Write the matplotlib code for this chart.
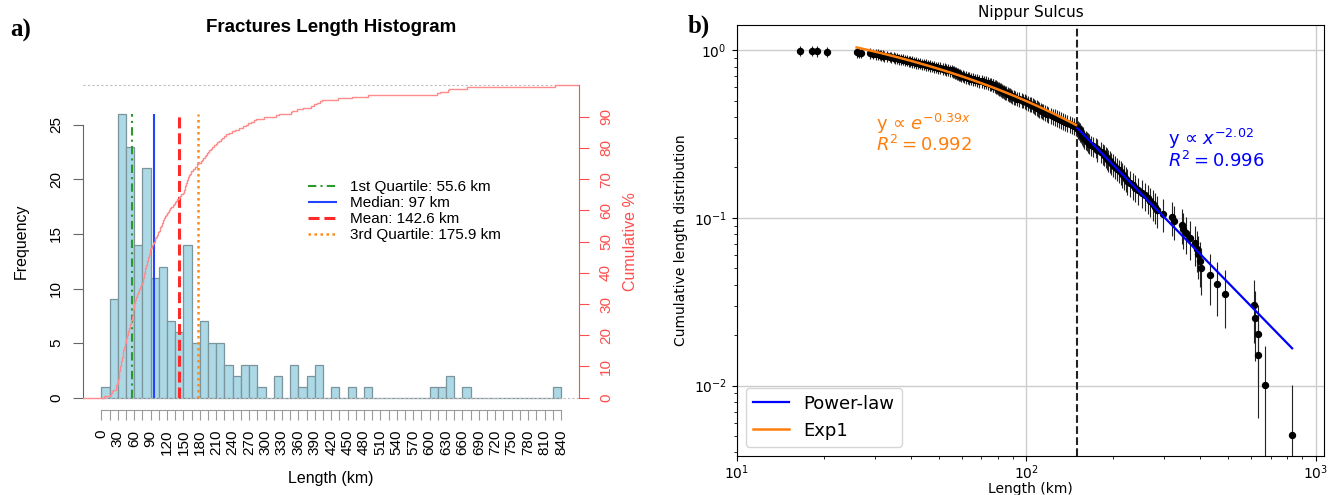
import numpy as np
import matplotlib
matplotlib.use("Agg")
import matplotlib.pyplot as plt

# fracture lengths in km (estimated from both panels, ascending)
lengths = [
    4.0,
    16.6, 18.2, 18.9, 20.5, 26.0, 26.4, 27.0, 28.8, 29.6,
    30.4, 30.9, 31.3, 31.6, 32.0, 32.4, 33.1, 33.8, 34.3, 34.9, 35.4, 35.9, 36.5,
    37.0, 37.6, 38.1, 38.7, 39.3, 39.8, 40.4, 41.0, 41.7, 42.3, 43.0, 43.8, 44.5,
    45.3, 45.9, 46.6, 47.4, 48.0, 48.9, 49.7, 50.6, 51.5, 52.3, 53.1, 53.9, 54.8,
    55.5, 55.9, 56.4, 56.9, 57.4, 57.8, 58.3, 58.8, 59.2, 59.7,
    60.4, 61.2, 62.0, 62.9, 63.6, 64.5, 65.7, 66.8, 67.9, 69.0, 70.3, 71.6, 72.8, 74.1,
    75.3, 75.9, 76.6, 77.2, 77.9, 78.5, 79.2, 79.8, 80.5, 81.1, 81.9, 82.6, 83.3,
    84.0, 84.8, 85.5, 86.3, 87.4, 88.3, 89.0, 89.7,
    90.6, 91.9, 93.2, 94.7, 96.6, 97.4, 98.9, 100.3, 101.8, 103.1, 104.4,
    105.5, 106.6, 107.8, 108.7, 109.9, 111.0, 112.3, 113.5, 114.6, 116.5, 118.0, 119.5,
    121.5, 123.5, 125.5, 128.0, 130.0, 132.2, 134.3,
    136.2, 138.9, 141.5, 144.0, 146.4, 148.8,
    150.4, 151.3, 152.2, 153.1, 154.0, 155.0, 155.9, 156.9, 157.9, 158.9, 160.8,
    162.2, 163.5, 164.6,
    167.5, 171.0, 173.9, 175.4, 176.1,
    181.5, 184.0, 186.5, 188.5, 190.5, 192.5, 194.5,
    197.0, 200.0, 203.0, 206.0, 209.0,
    212.0, 215.0, 218.0, 221.0, 223.8,
    228.5, 233.5, 238.5,
    244.5, 251.5,
    258.5, 263.5, 268.0,
    273.5, 278.5, 283.5,
    297.0,
    319.0, 324.0,
    347.0, 349.0, 357.0,
    369.0,
    384.0, 389.0,
    394.0, 399.0, 403.0,
    433.0, 458.0, 488.0,
    613.0, 619.0, 634.0, 635.0, 668.0, 830.0,
]

bin_width = 15
hist_max = 840

# summary statistics shown in the legend (km)
stat_names = ["1st Quartile", "Median", "Mean", "3rd Quartile"]
stat_values = [55.6, 97, 142.6, 175.9]

# fits in panel b)
pl_xmin = 150          # dashed line / start of power-law fit
pl_y0 = 0.343          # power-law line value at its first point
pl_slope = -1.77       # slope of drawn power-law line (log-log)
exp_x0 = 26.0          # start of Exp1 fit
exp_amp = 2.234
exp_rate = 0.15
pl_text = ["y \u221d $x^{-2.02}$", "$R^2 = 0.996$"]
exp_text = ["y \u221d $e^{-0.39x}$", "$R^2 = 0.992$"]

W, H = 1336, 495
fig = plt.figure(figsize=(W / 100, H / 100), dpi=100)
R_FONT = "Liberation Sans"

L = np.array(lengths)
N = len(L)

# ---------------- a) histogram ----------------
ax = fig.add_axes([83 / W, 1 - 410.2 / H, 496.3 / W, 337.2 / H])
edges = np.arange(0, hist_max + bin_width, bin_width)
counts, _, _ = ax.hist(L, bins=edges, color="#add8e6", edgecolor="#7c959d", linewidth=0.9)

xext = 0.04 * hist_max
xlim = (-xext, hist_max + xext)
ax.set_xlim(xlim)
ftop = counts.max() * 1.1
ax.set_ylim(-0.04 * ftop, 1.04 * ftop)

ax.spines[["top", "right"]].set_visible(False)
ax.spines["bottom"].set_bounds(0, hist_max)
ax.spines["left"].set_bounds(0, 25)
ax.spines["bottom"].set_color("#9a9a9a")
ax.spines["left"].set_color("#666666")

xt = np.arange(0, hist_max + 1, bin_width)
ax.set_xticks(xt)
ax.set_xticklabels([str(v) if v % 30 == 0 else "" for v in xt], rotation=90)
ax.tick_params(axis="x", length=7.2, pad=7, color="#9a9a9a", labelsize=11)
ax.set_yticks(range(0, 26, 5))
ax.tick_params(axis="y", length=7.2, pad=7, color="#666666", labelsize=11, labelrotation=90)
for lab in ax.get_xticklabels() + ax.get_yticklabels():
    lab.set_fontfamily(R_FONT)
for lab in ax.get_yticklabels():
    lab.set_va("center")

stat_styles = [
    dict(color="#2a9a2a", linestyle=(0, (4, 2, 1, 2)), linewidth=1.5),
    dict(color="#2244ff", linestyle="-", linewidth=1.5),
    dict(color="#ff2a2a", linestyle=(0, (3.6, 1.6)), linewidth=2.2),
    dict(color="#ff8c1a", linestyle=(0, (1, 1.4)), linewidth=1.8),
]
handles = []
for name, val, st in zip(stat_names, stat_values, stat_styles):
    h = ax.vlines(val, 0, counts.max(), label=f"{name}: {val:g} km", **st)
    handles.append(h)

ax.set_xlabel("Length (km)", fontsize=11.5, fontfamily=R_FONT, va="center")
ax.xaxis.set_label_coords(0.5, (410.2 - 478) / 337.2)
ax.set_ylabel("Frequency", fontsize=11.5, fontfamily=R_FONT, va="center")
ax.yaxis.set_label_coords((21 - 83) / 496.3, 0.5)

# cumulative curve on the right axis
red = "#ff4d4d"
ax2 = ax.twinx()
ax2.set_ylim(-4, 104)
ax2.spines[["top", "left", "bottom"]].set_visible(False)
ax2.spines["right"].set_bounds(0, 100)
ax2.spines["right"].set_color(red)
ax2.set_yticks(range(0, 91, 10))
ax2.tick_params(axis="y", length=7.2, pad=7, color=red, labelcolor=red, labelsize=11, labelrotation=90)
for lab in ax2.get_yticklabels():
    lab.set_fontfamily(R_FONT)
    lab.set_va("center")
for yv in (0, 100):
    ax2.axhline(yv, color="#bdbdbd", linestyle=(0, (2, 2)), linewidth=0.8, zorder=1)
xs = np.sort(L)
pct = np.arange(1, N + 1) / N * 100
ax2.step(np.r_[xlim[0], xs, xlim[1]], np.r_[0, pct, 100], where="post",
         color="#ff8c8c", linewidth=1, zorder=2)
ax2.set_ylabel("Cumulative %", color=red, fontsize=11.5, fontfamily=R_FONT, va="center")
ax2.yaxis.set_label_coords((631 - 83) / 496.3, 0.5)

leg = ax2.legend(handles=handles, loc="upper left", bbox_to_anchor=(0.4372, 0.7043),
                 frameon=False, borderpad=0, handlelength=1.9, handletextpad=0.9,
                 labelspacing=0.12, prop={"family": R_FONT, "size": 11})

fig.text(331 / W, 1 - 27 / H, "Fractures Length Histogram", ha="center", va="center",
         fontsize=13.5, fontweight="bold", fontfamily=R_FONT)

# ---------------- b) cumulative distribution ----------------
bx = fig.add_axes([736.5 / W, 1 - 456 / H, 587.8 / W, 431 / H])
ccdf = (N - np.arange(N)) / N
yerr = np.sqrt(ccdf * N) / N
bx.errorbar(xs, ccdf, yerr=yerr, fmt="o", color="k", markersize=4.3,
            ecolor="#222222", elinewidth=0.8, zorder=3)
bx.set_xscale("log")
bx.set_yscale("log")
bx.set_xlim(10, 1072)
bx.set_ylim(0.0038, 1.415)
bx.grid(True, which="major", color="#cccccc", linewidth=1)
bx.set_axisbelow(True)
bx.axvline(pl_xmin, color="#222222", linestyle="--", linewidth=1.5, zorder=2)

x_pl = xs[xs >= pl_xmin]
y_pl = pl_y0 * (x_pl / x_pl[0]) ** pl_slope
bx.plot(x_pl, y_pl, color="#0000ff", linewidth=1.6, label="Power-law", zorder=4)
x_exp = xs[(xs >= exp_x0) & (xs < pl_xmin)]
y_exp = exp_amp * np.exp(-exp_rate * np.sqrt(x_exp))
bx.plot(x_exp, y_exp, color="#ff7f0e", linewidth=1.8, label="Exp1", zorder=4)

bx.legend(loc="lower left", fontsize=13)
bx.set_title("Nippur Sulcus", fontsize=11)
bx.tick_params(axis="x", which="major", pad=2)
bx.set_xlabel("Length (km)", fontsize=10, labelpad=0)
bx.set_ylabel("Cumulative length distribution", fontsize=10)

bx.text(0.2368, 0.7564, exp_text[0], transform=bx.transAxes, color="#ff7f0e", fontsize=13, va="baseline")
bx.text(0.2368, 0.7077, exp_text[1], transform=bx.transAxes, color="#ff7f0e", fontsize=13, va="baseline")
bx.text(0.7346, 0.7216, pl_text[0], transform=bx.transAxes, color="#0000ff", fontsize=13, va="baseline")
bx.text(0.7346, 0.6712, pl_text[1], transform=bx.transAxes, color="#0000ff", fontsize=13, va="baseline")

# panel letters
fig.text(10 / W, 1 - 37 / H, "a)", fontsize=18, fontweight="bold", fontfamily="Liberation Serif")
fig.text(688 / W, 1 - 33 / H, "b)", fontsize=18, fontweight="bold", fontfamily="Liberation Serif")

fig.savefig("out.png", dpi=100)
